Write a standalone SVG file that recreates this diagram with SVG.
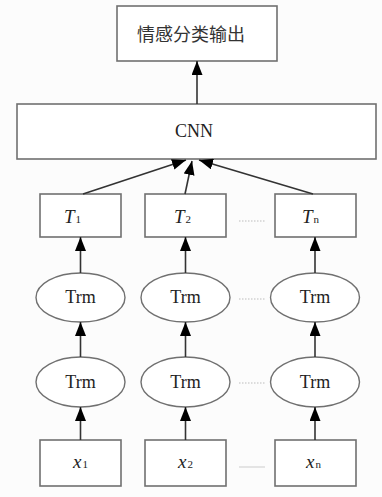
<svg xmlns="http://www.w3.org/2000/svg" width="382" height="497" viewBox="0 0 382 497">
<defs>
<marker id="arr" markerWidth="14" markerHeight="11" refX="14" refY="5.5" orient="auto" markerUnits="userSpaceOnUse" viewBox="0 0 14 11">
<path d="M0,0 L14,5.5 L0,11 Z" fill="#000"/>
</marker>
<style>
.box{fill:#fff;stroke:#707070;stroke-width:1.6}
.ell{fill:#fff;stroke:#707070;stroke-width:1.4}
.lbl{font-family:'Liberation Serif','Times New Roman','DejaVu Serif',serif;font-size:18px;fill:#222;text-anchor:middle}
.it{font-family:'Liberation Serif','Times New Roman','DejaVu Serif',serif;font-style:italic;font-size:19px;fill:#222}
.sub{font-size:11px;font-style:normal}
.cn{font-family:'Noto Sans CJK SC',sans-serif;font-size:18px;fill:#333;text-anchor:middle}
.con{stroke:#333;stroke-width:1.6;fill:none;marker-end:url(#arr)}
.dots{stroke:#bbb;stroke-width:1.2;stroke-dasharray:1.5 1.5;fill:none}
</style>
</defs>
<rect width="382" height="497" fill="#fcfcfc"/>
<g id="output">
<rect class="box" x="117" y="6" width="160" height="55"/>
<text class="cn" x="191" y="41">情感分类输出</text>
</g>
<g id="cnn">
<rect class="box" x="17" y="104" width="359" height="55"/>
<text class="lbl" x="194" y="137">CNN</text>
</g>
<g id="t1"><rect class="box" x="40" y="194" width="81" height="43"/><text class="it" x="64" y="223">T<tspan class="sub" dx="1">1</tspan></text></g>
<g id="t2"><rect class="box" x="145" y="194" width="81" height="43"/><text class="it" x="174" y="223">T<tspan class="sub" dx="1">2</tspan></text></g>
<g id="tn"><rect class="box" x="275" y="194" width="81" height="43"/><text class="it" x="302" y="223">T<tspan class="sub" dx="1">n</tspan></text></g>
<g id="trm1a"><ellipse class="ell" cx="80.5" cy="297.5" rx="44.5" ry="24.5"/><text class="lbl" x="80.5" y="303">Trm</text></g>
<g id="trm2a"><ellipse class="ell" cx="185.5" cy="297.5" rx="44.5" ry="24.5"/><text class="lbl" x="185.5" y="303">Trm</text></g>
<g id="trmna"><ellipse class="ell" cx="315" cy="297.5" rx="44.5" ry="24.5"/><text class="lbl" x="315" y="303">Trm</text></g>
<g id="trm1b"><ellipse class="ell" cx="80.5" cy="382" rx="44.5" ry="25"/><text class="lbl" x="80.5" y="388">Trm</text></g>
<g id="trm2b"><ellipse class="ell" cx="185.5" cy="382" rx="44.5" ry="25"/><text class="lbl" x="185.5" y="388">Trm</text></g>
<g id="trmnb"><ellipse class="ell" cx="315" cy="382" rx="44.5" ry="25"/><text class="lbl" x="315" y="388">Trm</text></g>
<g id="x1"><rect class="box" x="40" y="440" width="81" height="46"/><text class="it" x="73" y="468">x<tspan class="sub" dx="1">1</tspan></text></g>
<g id="x2"><rect class="box" x="145" y="440" width="81" height="46"/><text class="it" x="178" y="468">x<tspan class="sub" dx="1">2</tspan></text></g>
<g id="xn"><rect class="box" x="275" y="440" width="81" height="46"/><text class="it" x="306" y="468">x<tspan class="sub" dx="1">n</tspan></text></g>
<g id="ellipsis">
<line class="dots" x1="239" y1="221" x2="265" y2="221"/>
<line class="dots" x1="239" y1="299" x2="265" y2="299"/>
<line class="dots" x1="239" y1="383" x2="265" y2="383"/>
<line x1="239" y1="467" x2="265" y2="467" stroke="#ccc" stroke-width="1"/>
</g>
<g id="connectors">
<line class="con" x1="197" y1="104" x2="197" y2="61"/>
<line class="con" x1="83" y1="194" x2="186" y2="160"/>
<line class="con" x1="185" y1="194" x2="192" y2="161"/>
<line class="con" x1="313" y1="194" x2="199" y2="160"/>
<line class="con" x1="80.5" y1="273" x2="80.5" y2="237"/>
<line class="con" x1="185.5" y1="273" x2="185.5" y2="237"/>
<line class="con" x1="315" y1="273" x2="315" y2="237"/>
<line class="con" x1="80.5" y1="357" x2="80.5" y2="322"/>
<line class="con" x1="185.5" y1="357" x2="185.5" y2="322"/>
<line class="con" x1="315" y1="357" x2="315" y2="322"/>
<line class="con" x1="80.5" y1="440" x2="80.5" y2="407"/>
<line class="con" x1="185.5" y1="440" x2="185.5" y2="407"/>
<line class="con" x1="315" y1="440" x2="315" y2="407"/>
</g>
</svg>
